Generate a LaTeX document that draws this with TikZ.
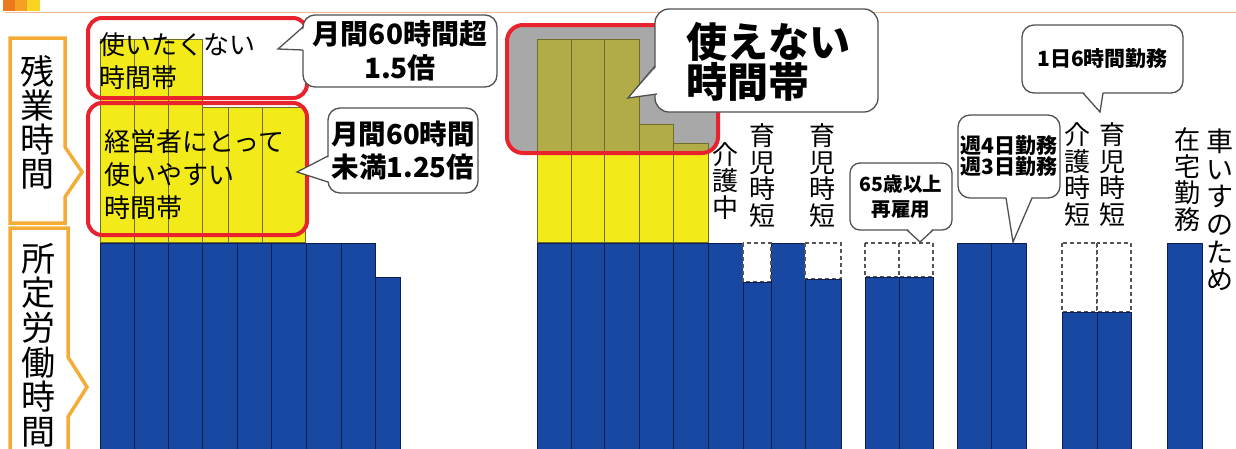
\documentclass[tikz,border=0pt]{standalone}
\usepackage{fontspec}
\setmainfont{Noto Sans CJK JP}
\definecolor{barblue}{RGB}{24,72,162}
\definecolor{barline}{RGB}{15,30,80}
\definecolor{baryel}{RGB}{243,234,25}
\definecolor{yelline}{RGB}{110,110,40}
\definecolor{barolive}{RGB}{178,172,72}
\definecolor{boxgray}{RGB}{168,168,168}
\definecolor{hired}{RGB}{232,35,45}
\definecolor{lblorange}{RGB}{245,172,55}
\definecolor{callgray}{RGB}{80,80,80}
\definecolor{dashgray}{RGB}{85,85,85}
\definecolor{topA}{RGB}{238,120,30}
\definecolor{topB}{RGB}{245,160,35}
\definecolor{topC}{RGB}{250,212,35}
\definecolor{topline}{RGB}{240,185,150}
\begin{document}
\begin{tikzpicture}[x=1pt,y=-1pt,
  bluebar/.style={fill=barblue,draw=barline,line width=0.9pt},
  yelbar/.style={fill=baryel,draw=yelline,line width=0.7pt},
  olivebar/.style={fill=barolive,draw=yelline,line width=0.7pt},
  dashbox/.style={fill=white,draw=dashgray,line width=1.1pt,dash pattern=on 4pt off 3pt},
  redbox/.style={draw=hired,line width=4pt,rounded corners=14pt},
  callout/.style={draw=callgray,fill=white,line width=1.3pt,rounded corners=12pt,inner sep=0pt,align=center},
  tailline/.style={draw=callgray,line width=1.3pt,line join=miter},
  lblbox/.style={draw=lblorange,fill=white,line width=3.5pt,line join=miter},
  vlabel/.style={inner sep=0pt,align=center,font=\fontsize{26}{26.5}\selectfont},
  boxtext/.style={inner sep=0pt,anchor=west,align=left,font=\fontsize{26}{33}\selectfont}]
\useasboundingbox (0,0) rectangle (1236,448);
\clip (0,0) rectangle (1236,448);
\fill[white] (0,0) rectangle (1236,448);
% top decoration
\fill[topA] (3,0) rectangle (15,11);
\fill[topB] (15,0) rectangle (27,11);
\fill[topC] (27,0) rectangle (40,11);
\draw[topline,line width=1.5pt] (5,12.5) -- (1236,12.5);
% left labels
\draw[lblbox] (10,38) -- (65,38) -- (65,147) -- (82,172) -- (65,197) -- (65,223) -- (10,223) -- cycle;
\node[inner sep=0pt,align=center,font=\fontsize{34}{34}\selectfont] (lz) at (37.5,122) {残\\業\\時\\間};
\draw[lblbox] (10,228) -- (68,228) -- (68,357) -- (87,387) -- (68,417) -- (68,460) -- (10,460) -- cycle;
\node[inner sep=0pt,align=center,font=\fontsize{34}{34.6}\selectfont] (ls) at (38,345) {所\\定\\労\\働\\時\\間};
% left group
\foreach \a/\b in {100/134,134/168,168/202} \draw[yelbar] (\a,39) rectangle (\b,242);
\foreach \a/\b in {202/228,228/262,262/305} \draw[yelbar] (\a,107) rectangle (\b,242);
\foreach \a/\b in {100/134.5,134.5/168,168/202,202/237,237/271.5,271.5/306,306/341,341/375} \draw[bluebar] (\a,243) rectangle (\b,452);
\draw[bluebar] (375,277) rectangle (400,452);
\draw[redbox] (88,18) rectangle (307,98);
\draw[redbox] (88,103) rectangle (307,235);
\node[boxtext] (t1) at (99,61.5) {使いたくない\\時間帯};
\node[boxtext] (t2) at (104,175) {経営者にとって\\使いやすい\\時間帯};
% callout 1
\node[callout,minimum width=194pt,minimum height=72pt,font=\fontsize{28}{34}\selectfont\bfseries] (c1) at (400,51) {月間60時間超\\1.5倍};
\coordinate (c1tip) at (278,49);
\fill[white] (305.5,27) -- (c1tip) -- (305.5,50) -- cycle;
\draw[tailline] (303,27) -- (c1tip) -- (303,50);
% callout 2
\node[callout,minimum width=150pt,minimum height=85pt,font=\fontsize{27.5}{33}\selectfont\bfseries] (c2) at (403,150.5) {月間60時間\\未満1.25倍};
\coordinate (c2tip) at (297,172);
\fill[white] (330.5,156) -- (c2tip) -- (330.5,182) -- cycle;
\draw[tailline] (328,156) -- (c2tip) -- (328,182);
% middle group
\fill[boxgray,rounded corners=16pt] (507,25) rectangle (718,153);
\foreach \a/\b/\t in {537/571/39,571/604/39,604/639/39,639/673/124,673/708/143} {
  \draw[olivebar] (\a,\t) rectangle (\b,153);
  \draw[yelbar] (\a,153) rectangle (\b,242);
}
\draw[redbox,rounded corners=16pt] (507,25) rectangle (718,153);
\foreach \a/\b in {537/571,571/604,604/639,639/673,673/708,708/743,771/805} \draw[bluebar] (\a,243) rectangle (\b,452);
\draw[dashbox] (743,243) rectangle (771,282);
\draw[bluebar] (743,282) rectangle (771,452);
\draw[dashbox] (805,243) rectangle (841,279);
\draw[bluebar] (805,279) rectangle (841,452);
% big callout
\node[callout,minimum width=223pt,minimum height=103pt,rounded corners=14pt] (c3) at (766.5,60.5) {};
\node[inner sep=0pt,anchor=west,align=left,font=\fontsize{41}{40}\selectfont\bfseries] (c3t) at (686,62) {使えない\\時間帯};
\coordinate (c3tip) at (628,98);
\fill[white] (657.5,66) -- (c3tip) -- (659.5,94) -- cycle;
\draw[tailline] (655,66) -- (c3tip) -- (657,94);
% vertical labels middle
\node[vlabel] (v1) at (725,181) {介\\護\\中};
\node[vlabel] (v2) at (762,175.5) {育\\児\\時\\短};
\node[vlabel] (v3) at (822,175.5) {育\\児\\時\\短};
% 65 group
\draw[dashbox] (865,243) rectangle (899,277);
\draw[dashbox] (899,243) rectangle (933,277);
\draw[bluebar] (865,277) rectangle (899,452);
\draw[bluebar] (899,277) rectangle (933,452);
\node[callout,minimum width=102pt,minimum height=67pt,rounded corners=10pt,font=\fontsize{19.5}{25}\selectfont\bfseries] (c4) at (901,196.5) {65歳以上\\再雇用};
\coordinate (c4tip) at (920,242);
\fill[white] (907,228) -- (c4tip) -- (933,228) -- cycle;
\draw[tailline] (907,230) -- (c4tip) -- (933,230);
% week group
\draw[bluebar] (957,243) rectangle (991,452);
\draw[bluebar] (991,243) rectangle (1026,452);
\node[callout,minimum width=102pt,minimum height=83pt,rounded corners=12pt,font=\fontsize{21}{20}\selectfont\bfseries] (c5) at (1009,156.5) {週4日勤務\\週3日勤務};
\coordinate (c5tip) at (1013,242);
\fill[white] (1006,196) -- (c5tip) -- (1032,196) -- cycle;
\draw[tailline] (1006,198) -- (c5tip) -- (1032,198);
% short time group
\draw[dashbox] (1062,243) rectangle (1097,312);
\draw[dashbox] (1097,243) rectangle (1131,312);
\draw[bluebar] (1062,312) rectangle (1097,452);
\draw[bluebar] (1097,312) rectangle (1131,452);
\node[vlabel] (v4) at (1077,174.5) {介\\護\\時\\短};
\node[vlabel] (v5) at (1112,174.5) {育\\児\\時\\短};
\node[callout,minimum width=161pt,minimum height=68pt,font=\fontsize{21}{24}\selectfont\bfseries] (c6) at (1102.5,59) {1日6時間勤務};
\coordinate (c6tip) at (1100,112);
\fill[white] (1083,91) -- (c6tip) -- (1103,91) -- cycle;
\draw[tailline] (1083,93) -- (c6tip) -- (1103,93);
% home work
\draw[bluebar] (1167,243) rectangle (1202,452);
\node[vlabel] (v6) at (1187,179.5) {在\\宅\\勤\\務};
\node[vlabel,font=\fontsize{27}{27.7}\selectfont] (v7) at (1220,210) {車\\い\\す\\の\\た\\め};
\end{tikzpicture}
\end{document}
